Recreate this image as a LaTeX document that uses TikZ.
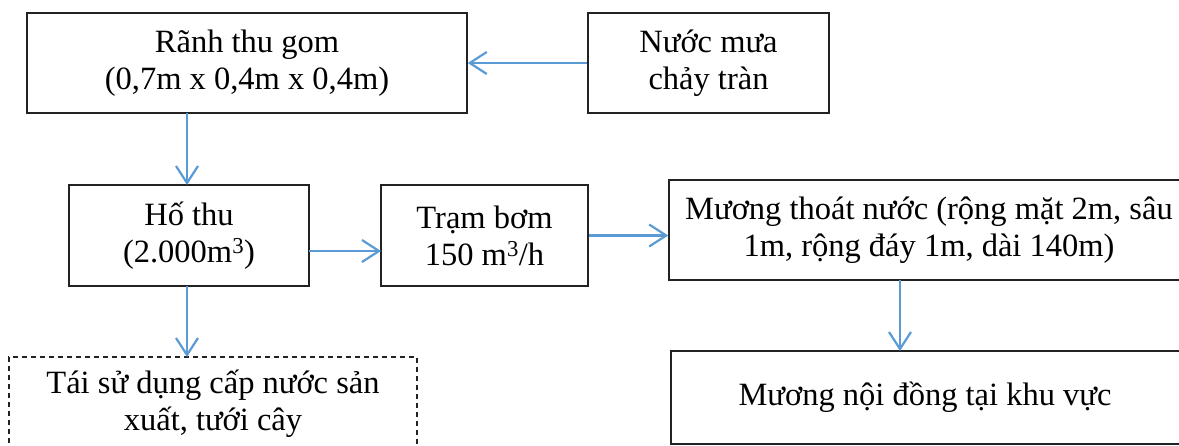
\documentclass[tikz,border=0pt]{standalone}
\usepackage{fontspec}
\setmainfont{Liberation Serif}
\usetikzlibrary{arrows.meta,calc}
\definecolor{arrowblue}{HTML}{5B9BD5}
\definecolor{boxline}{HTML}{222222}
\tikzset{
  box/.style={draw=boxline, line width=1.5pt, rectangle, align=center, inner sep=0pt,
    font=\fontsize{32.5}{37}\selectfont},
  dashbox/.style={box, dash pattern=on 5pt off 4pt},
  flow/.style={draw=arrowblue, line width=2.2pt,
    -{Straight Barb[length=17pt,width=22pt,line width=2.2pt]}}
}
\begin{document}
\begin{tikzpicture}[x=1pt,y=-1pt]
\useasboundingbox (0,0) rectangle (1179,445);
\clip (0,0) rectangle (1179,445);
\node[box, minimum width=440pt, minimum height=100pt] (A) at (247,63) {Rãnh thu gom\\(0,7m x 0,4m x 0,4m)};
\node[box, minimum width=241pt, minimum height=100pt] (B) at (708.5,63) {Nước mưa\\chảy tràn};
\node[box, minimum width=240pt, minimum height=101pt] (H) at (189,235.5) {Hố thu\\(2.000m\textsuperscript{3})};
\node[box, minimum width=207pt, minimum height=101pt] (T) at (484.5,235.5) {Trạm bơm\\150 m\textsuperscript{3}/h};
\node[box, minimum width=520pt, minimum height=100pt] (M) at (929,230) {Mương thoát nước (rộng mặt 2m, sâu\\1m, rộng đáy 1m, dài 140m)};
\node[box, minimum width=516pt, minimum height=93pt] (N) at (929,397.5) {\hspace*{-8pt}Mương nội đồng tại khu vực};
\node[dashbox, minimum width=408pt, minimum height=93pt] (D) at (213,403.5) {Tái sử dụng cấp nước sản\\xuất, tưới cây};
\coordinate (a1) at (187,113);
\coordinate (a2) at (187,185);
\coordinate (d1) at (187,286);
\coordinate (d2) at (187,357);
\coordinate (h1) at (309,251);
\coordinate (h2) at (381,251);
\coordinate (m1) at (900,280);
\coordinate (m2) at (900,351);
\draw[flow] (B.west) -- (A.east);
\draw[flow] (a1) -- (a2);
\draw[flow] (h1) -- (h2);
\draw[flow] (T.east) -- (T.east -| M.west);
\draw[flow] (d1) -- (d2);
\draw[flow] (m1) -- (m2);
\end{tikzpicture}
\end{document}
